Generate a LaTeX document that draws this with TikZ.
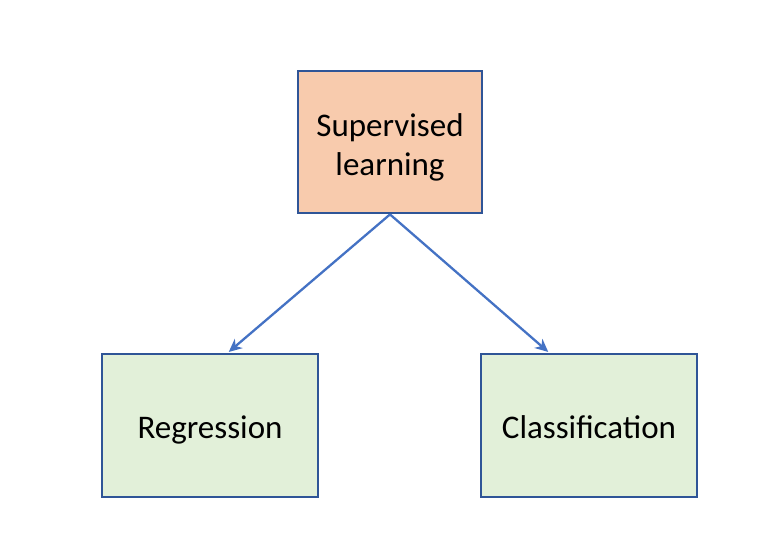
\documentclass[tikz,border=0pt]{standalone}
\usepackage{fontspec}
\setmainfont{Carlito}
\usetikzlibrary{arrows.meta}
\definecolor{boxborder}{HTML}{2F5597}
\definecolor{peach}{HTML}{F8CBAD}
\definecolor{lgreen}{HTML}{E2F0D9}
\definecolor{arrowblue}{HTML}{4472C4}
\tikzset{
  box/.style={draw=boxborder, line width=2.8pt, minimum width=#1, inner sep=0pt, align=center, font=\fontsize{33}{39}\selectfont},
  leaf/.style={box=216pt, minimum height=143pt, fill=lgreen, text height=32pt, text depth=7pt},
  conn/.style={draw=arrowblue, line width=2.3pt, -{Stealth[length=13pt,width=12pt,inset=4pt]}, shorten >=1pt}
}
\begin{document}
\begin{tikzpicture}[x=1pt,y=-1pt]
\useasboundingbox (0,0) rectangle (770,550);
\node[box=184pt, minimum height=142pt, fill=peach, text height=51pt, text depth=27pt] (sup) at (390,142) {\begin{tabular}{@{}c@{}}Supervised\\learning\end{tabular}};
\node[leaf] (reg) at (210,425.5) {Regression};
\node[leaf] (cls) at (589,425.5) {Classification};
\draw[conn] (sup.south) -- ([xshift=18pt]reg.north);
\draw[conn] (sup.south) -- ([xshift=-40pt]cls.north);
\end{tikzpicture}
\end{document}
